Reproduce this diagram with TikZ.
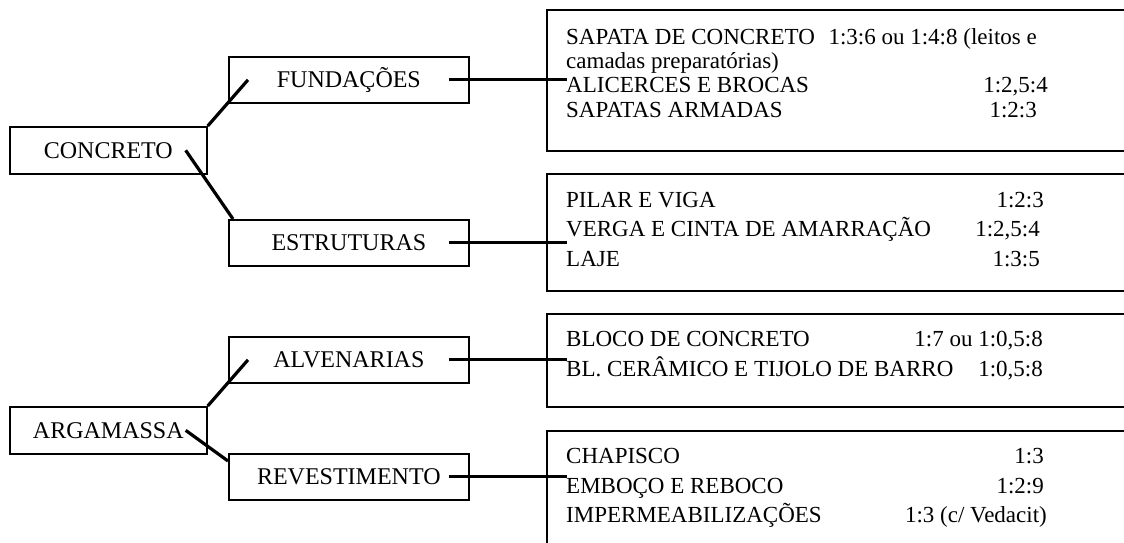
\documentclass[tikz,border=0pt]{standalone}
\usepackage{fontspec}
\setmainfont{Liberation Serif}
\usetikzlibrary{calc}

\begin{document}
\begin{tikzpicture}[x=1pt,y=-1pt,
  every node/.style={font=\fontsize{23}{28}\selectfont},
  box/.style={draw,line width=1.7pt,inner sep=0pt,anchor=north west},
  leftbox/.style={box,minimum width=197pt,minimum height=47pt,font=\fontsize{24}{28}\selectfont},
  midbox/.style={box,minimum width=240pt,minimum height=46pt,font=\fontsize{24}{28}\selectfont},
  listbox/.style={box,minimum width=620pt},
  item/.style={inner sep=0pt,anchor=base west},
  ratio/.style={inner sep=0pt,anchor=base east},
  link/.style={line width=3.2pt}]
  \useasboundingbox (0,0) rectangle (1124,542);
  \node[leftbox] (conc)   at (9,126)  {CONCRETO};
  \node[leftbox] (argam)  at (9,406)  {ARGAMASSA};
  \node[midbox]  (fund)   at (228,56) {FUNDAÇÕES};
  \node[midbox]  (estr)   at (228,219) {ESTRUTURAS};
  \node[midbox]  (alven)  at (228,336) {ALVENARIAS};
  \node[midbox]  (revest) at (228,453) {REVESTIMENTO};
  \node[listbox,minimum height=141pt] (fundlist)   at (546,9)   {};
  \node[listbox,minimum height=117pt] (estrlist)   at (546,173) {};
  \node[listbox,minimum height=93pt]  (alvenlist)  at (546,313) {};
  \node[listbox,minimum height=140pt] (revestlist) at (546,430) {};
  \node[item]  (f1)  at (566,44)  {SAPATA DE CONCRETO};
  \node[ratio] (f1r) at (1037,44) {1:3:6 ou 1:4:8 (leitos e};
  \node[item]  (f2)  at (566,68)  {camadas preparatórias)};
  \node[item]  (f3)  at (566,92)  {ALICERCES E BROCAS};
  \node[ratio] (f3r) at (1048,92) {1:2,5:4};
  \node[item]  (f4)  at (566,117) {SAPATAS ARMADAS};
  \node[ratio] (f4r) at (1037,117) {1:2:3};
  \node[item]  (e1)  at (566,207) {PILAR E VIGA};
  \node[ratio] (e1r) at (1044,207) {1:2:3};
  \node[item]  (e2)  at (566,236) {VERGA E CINTA DE AMARRAÇÃO};
  \node[ratio] (e2r) at (1040,236) {1:2,5:4};
  \node[item]  (e3)  at (566,266) {LAJE};
  \node[ratio] (e3r) at (1040,266) {1:3:5};
  \node[item]  (a1)  at (566,346) {BLOCO DE CONCRETO};
  \node[ratio] (a1r) at (1043,346) {1:7 ou 1:0,5:8};
  \node[item]  (a2)  at (566,376) {BL. CERÂMICO E TIJOLO DE BARRO};
  \node[ratio] (a2r) at (1043,376) {1:0,5:8};
  \node[item]  (r1)  at (566,463) {CHAPISCO};
  \node[ratio] (r1r) at (1044,463) {1:3};
  \node[item]  (r2)  at (566,493) {EMBOÇO E REBOCO};
  \node[ratio] (r2r) at (1044,493) {1:2:9};
  \node[item]  (r3)  at (566,522) {IMPERMEABILIZAÇÕES};
  \node[ratio] (r3r) at (1047,522) {1:3 (c/ Vedacit)};
  \draw[link] (conc.north east) -- ($(fund.west)+(20,0)$);
  \draw[link] ($(conc.east)+(-22,0)$) -- ($(estr.north west)+(5,0)$);
  \draw[link] (argam.north east) -- ($(alven.west)+(20,0)$);
  \draw[link] ($(argam.east)+(-22,0)$) -- ($(revest.north west)+(0,8)$);
  \draw[link] ($(fund.east)+(-21,0)$) -- ($(fund.east -| fundlist.west)+(21,0)$);
  \draw[link] ($(estr.east)+(-21,0)$) -- ($(estr.east -| estrlist.west)+(21,0)$);
  \draw[link] ($(alven.east)+(-21,0)$) -- ($(alven.east -| alvenlist.west)+(21,0)$);
  \draw[link] ($(revest.east)+(-21,0)$) -- ($(revest.east -| revestlist.west)+(21,0)$);
\end{tikzpicture}
\end{document}
